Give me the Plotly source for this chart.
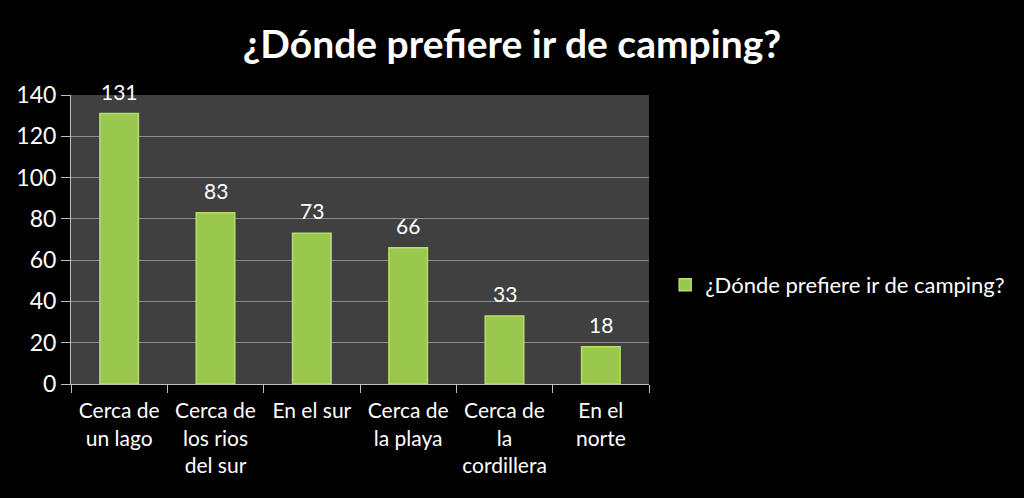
import plotly.graph_objects as go

categories = ["Cerca de<br>un lago", "Cerca de<br>los rios<br>del sur", "En el sur",
              "Cerca de<br>la playa", "Cerca de<br>la<br>cordillera", "En el<br>norte"]
values = [131, 83, 73, 66, 33, 18]
series_name = "¿Dónde prefiere ir de camping?"
title_text = "¿Dónde prefiere ir de camping?"

FONT = "Lato, 'Open Sans', sans-serif"

fig = go.Figure()
fig.add_trace(go.Bar(
    x=categories, y=values, name=series_name,
    marker=dict(color="#9ac74e", line=dict(color="#b6dd6c", width=1.5)),
    showlegend=True,
))

for c, v in zip(categories, values):
    fig.add_annotation(x=c, y=v, text=str(v), showarrow=False, yanchor="bottom",
                       yshift=8, font=dict(color="white", size=21, family=FONT))

fig.update_layout(
    width=1024, height=498,
    paper_bgcolor="black", plot_bgcolor="#404040",
    margin=dict(l=71, r=375, t=95, b=114, autoexpand=False),
    bargap=0.6,
    font=dict(family=FONT, color="white", size=22),
    title=dict(text="<b>" + title_text + "</b>", x=0.5, xanchor="center",
               y=0.91, yanchor="middle", font=dict(size=39, color="white", family=FONT)),
    showlegend=True,
    legend=dict(x=1.028, y=0.343, xanchor="left", yanchor="middle",
                font=dict(size=22, color="white", family=FONT),
                bgcolor="rgba(0,0,0,0)", itemwidth=30),
    xaxis=dict(showgrid=False, ticks="outside", tickson="boundaries", ticklen=8,
               tickcolor="#bfbfbf", showline=True, linecolor="#bfbfbf",
               tickangle=0, automargin=False, ticklabelstandoff=8,
               tickfont=dict(size=21, color="white", family=FONT)),
    yaxis=dict(range=[0, 140], dtick=20, showgrid=True, gridcolor="#8c8c8c", gridwidth=1,
               ticks="outside", ticklen=9, tickcolor="#bfbfbf", showline=True,
               linecolor="#bfbfbf", zeroline=False, automargin=False,
               tickfont=dict(size=23, color="white", family=FONT)),
)

fig.write_html("out.html", config={"displayModeBar": False},
               post_script="document.body.style.margin='0';")
